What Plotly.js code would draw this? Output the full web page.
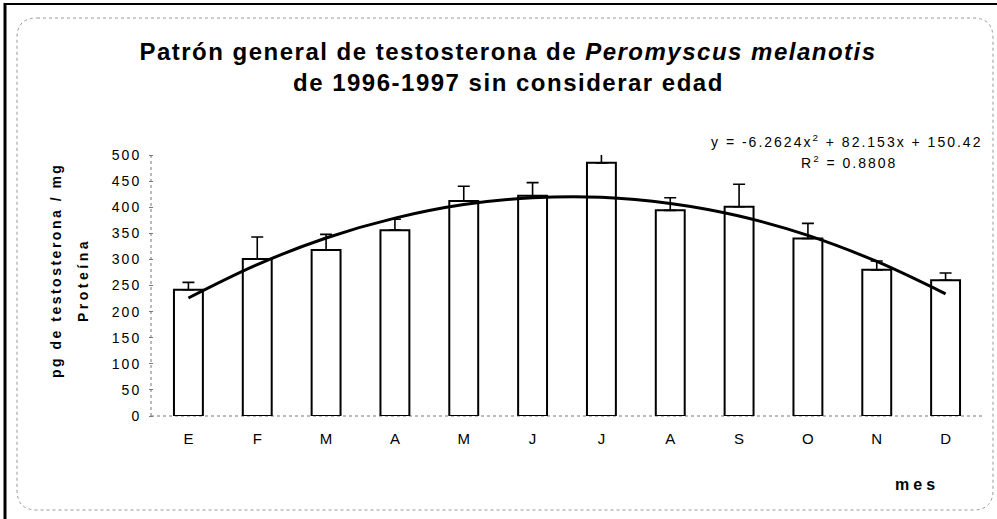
<!DOCTYPE html>
<html>
<head>
<meta charset="utf-8">
<script src="https://cdn.plot.ly/plotly-3.0.1.min.js"></script>
<style>
  html, body { margin: 0; padding: 0; background: #fff; }
  #chart { width: 997px; height: 519px; }
  #chart .ytick text { letter-spacing: 2px; }
</style>
</head>
<body>
<div id="chart"></div>
<script>
// ---- data ----
const months = ['E', 'F', 'M', 'A', 'M', 'J', 'J', 'A', 'S', 'O', 'N', 'D'];
const testosterone = [242, 301, 318, 356, 412, 422, 485, 394, 401, 340, 280, 260];
const errorsUp = [14, 42, 30, 21, 28, 25, 38, 24, 43, 29, 17, 14];
const trendValues = [226, 290, 341, 379, 405, 418, 419, 407, 383, 346, 296, 234];
const yTicks = [0, 50, 100, 150, 200, 250, 300, 350, 400, 450, 500];

// ---- layout geometry (pixels) ----
const W = 997, H = 519, L = 154, R = 17, T = 155, B = 103;
const PW = W - L - R, PH = H - T - B;
const px = p => (p - L) / PW;
const py = p => 1 - (p - T) / PH;

const xs = months.map((_, i) => i + 1);
const boundaries = months.map((_, i) => i + 0.5).concat([months.length + 0.5]);

const FONT = 'Liberation Sans, Arial, Helvetica, sans-serif';
const sp = (txt, s) => '<span style="letter-spacing:' + s + 'px">' + txt + '</span>';

const bars = {
  type: 'bar',
  x: xs,
  y: testosterone,
  width: 0.42,
  marker: { color: 'white', line: { color: 'black', width: 2 } },
  error_y: {
    type: 'data', symmetric: false,
    array: errorsUp, arrayminus: errorsUp.map(() => 0),
    color: 'black', thickness: 1.6, width: 6
  },
  hoverinfo: 'x+y',
  showlegend: false
};

const trend = {
  type: 'scatter',
  mode: 'lines',
  x: xs,
  y: trendValues,
  line: { color: 'black', width: 3, shape: 'spline' },
  showlegend: false
};

// rounded dotted frame path in paper coords
function roundedRect(x0, y0, x1, y1, r) {
  const P = (a, b) => px(a).toFixed(5) + ',' + py(b).toFixed(5);
  return 'M' + P(x0 + r, y0) + ' L' + P(x1 - r, y0) +
    ' Q' + P(x1, y0) + ' ' + P(x1, y0 + r) +
    ' L' + P(x1, y1 - r) +
    ' Q' + P(x1, y1) + ' ' + P(x1 - r, y1) +
    ' L' + P(x0 + r, y1) +
    ' Q' + P(x0, y1) + ' ' + P(x0, y1 - r) +
    ' L' + P(x0, y0 + r) +
    ' Q' + P(x0, y0) + ' ' + P(x0 + r, y0) + ' Z';
}

const layout = {
  width: W, height: H,
  margin: { l: L, r: R, t: T, b: B },
  paper_bgcolor: 'white',
  plot_bgcolor: 'white',
  font: { family: FONT, color: 'black', size: 15 },
  title: {
    text: sp('<b>Patrón general de testosterona de <i>Peromyscus melanotis</i></b>', 1.5),
    font: { family: FONT, size: 24, color: 'black' },
    xref: 'container', yref: 'container',
    x: 508 / W, xanchor: 'center',
    y: 1 - 52 / H, yanchor: 'middle'
  },
  xaxis: {
    range: [0.5, 12.5],
    tickmode: 'array', tickvals: xs, ticktext: months,
    ticks: '', showline: false, showgrid: false, zeroline: false,
    tickfont: { family: FONT, size: 15 },
    ticklabelstandoff: 12,
    fixedrange: true
  },
  xaxis2: {
    overlaying: 'x', anchor: 'y', side: 'bottom',
    range: [0.5, 12.5],
    tickmode: 'array', tickvals: boundaries,
    ticks: 'outside', ticklen: 4, tickcolor: '#777', tickwidth: 1,
    showticklabels: false, showline: false, showgrid: false, zeroline: false
  },
  yaxis: {
    range: [0, 500],
    tickmode: 'array', tickvals: yTicks,
    ticks: 'outside', ticklen: 4, tickcolor: '#777', tickwidth: 1,
    showline: false, showgrid: false, zeroline: false,
    tickfont: { family: FONT, size: 14 },
    ticklabelstandoff: 5
  },
  bargap: 0.58,
  shapes: [
    // dotted axis lines
    { type: 'line', xref: 'paper', yref: 'paper', x0: px(151), x1: px(151), y0: 0, y1: 1,
      line: { color: '#777', width: 1, dash: 'dot' }, layer: 'below' },
    { type: 'line', xref: 'paper', yref: 'paper', x0: px(151), x1: px(982), y0: 0, y1: 0,
      line: { color: '#777', width: 1, dash: 'dot' }, layer: 'below' },
    // rounded dotted chart frame
    { type: 'path', xref: 'paper', yref: 'paper', path: roundedRect(17, 18, 993, 510, 20),
      line: { color: '#999', width: 1, dash: 'dot' }, layer: 'below' },
    // black scan border (left and top)
    { type: 'line', xref: 'paper', yref: 'paper', x0: px(5), x1: px(5), y0: py(3), y1: py(519),
      line: { color: 'black', width: 3 } },
    { type: 'line', xref: 'paper', yref: 'paper', x0: px(4), x1: px(997), y0: py(4), y1: py(4),
      line: { color: 'black', width: 2 } }
  ],
  annotations: [
    { xref: 'paper', yref: 'paper', x: px(508), y: py(83), xanchor: 'center', yanchor: 'middle',
      text: sp('<b>de 1996-1997 sin considerar edad</b>', 1.5), showarrow: false,
      font: { family: FONT, size: 24 } },
    { xref: 'paper', yref: 'paper', x: px(846), y: py(141), xanchor: 'center', yanchor: 'middle',
      text: sp('y = -6.2624x<sup>2</sup> + 82.153x + 150.42', 2), showarrow: false,
      font: { family: FONT, size: 14 } },
    { xref: 'paper', yref: 'paper', x: px(849), y: py(162), xanchor: 'center', yanchor: 'middle',
      text: sp('R<sup>2</sup> = 0.8808', 2), showarrow: false,
      font: { family: FONT, size: 14 } },
    { xref: 'paper', yref: 'paper', x: px(56), y: py(271), xanchor: 'center', yanchor: 'middle',
      text: sp('<b>pg de testosterona / mg</b>', 2.5), textangle: -90, showarrow: false,
      font: { family: FONT, size: 14 } },
    { xref: 'paper', yref: 'paper', x: px(83), y: py(280), xanchor: 'center', yanchor: 'middle',
      text: sp('<b>Proteína</b>', 3.5), textangle: -90, showarrow: false,
      font: { family: FONT, size: 14 } },
    { xref: 'paper', yref: 'paper', x: px(917), y: py(484), xanchor: 'center', yanchor: 'middle',
      text: sp('<b>mes</b>', 4), showarrow: false,
      font: { family: FONT, size: 16 } }
  ]
};

Plotly.newPlot('chart', [bars, trend], layout, { displayModeBar: false, staticPlot: true });
</script>
</body>
</html>
